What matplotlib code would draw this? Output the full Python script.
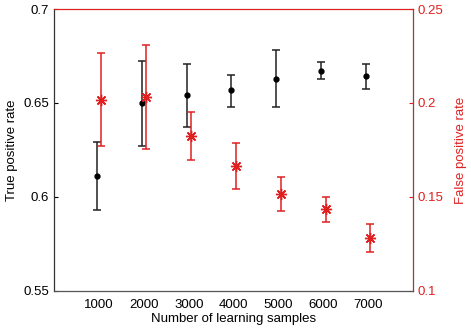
import matplotlib as mpl
mpl.use('Agg')
import matplotlib.pyplot as plt
import numpy as np

plt.rcParams['font.family'] = ['Liberation Sans', 'DejaVu Sans']

# number of learning samples
samples = [1000, 2000, 3000, 4000, 5000, 6000, 7000]

# true positive rate (left axis) with lower / upper bounds of error bars
tpr = [0.611, 0.650, 0.654, 0.657, 0.663, 0.667, 0.6645]
tpr_lo = [0.593, 0.627, 0.637, 0.648, 0.648, 0.663, 0.6576]
tpr_hi = [0.629, 0.6725, 0.671, 0.665, 0.678, 0.672, 0.671]

# false positive rate (right axis)
fpr = [0.2016, 0.203, 0.1823, 0.1665, 0.1516, 0.1435, 0.1282]
fpr_lo = [0.1771, 0.1755, 0.1695, 0.1541, 0.1424, 0.1369, 0.1206]
fpr_hi = [0.2264, 0.231, 0.195, 0.1786, 0.1608, 0.1498, 0.1356]

red = '#e02020'

fig = plt.figure(figsize=(4.71, 3.34), dpi=100)
ax = fig.add_axes([0.115, 0.129, 0.762, 0.844])
ax2 = ax.twinx()

x = np.array(samples)
tpr_a = np.array(tpr)
fpr_a = np.array(fpr)

ax.errorbar(x - 50, tpr_a, yerr=[tpr_a - np.array(tpr_lo), np.array(tpr_hi) - tpr_a],
            fmt='o', color='black', ecolor='#222222', markersize=3.5, capsize=3,
            elinewidth=1.1, capthick=1.1)
ax2.errorbar(x + 50, fpr_a, yerr=[fpr_a - np.array(fpr_lo), np.array(fpr_hi) - fpr_a],
             fmt='none', ecolor=red, capsize=3, elinewidth=1.1, capthick=1.1)
# MATLAB-style '*' marker: plus and cross combined
ax2.plot(x + 50, fpr_a, linestyle='none', marker=(8, 2, 0), markersize=8,
         color=red, markeredgewidth=1.0)

ax.set_xlim(0, 8000)
ax.set_ylim(0.55, 0.7)
ax2.set_ylim(0.1, 0.25)
ax.set_xticks(samples)
ax.set_yticks([0.55, 0.6, 0.65, 0.7])
ax.set_yticklabels(['0.55', '0.6', '0.65', '0.7'])
ax2.set_yticks([0.1, 0.15, 0.2, 0.25])
ax2.set_yticklabels(['0.1', '0.15', '0.2', '0.25'])

ax.tick_params(axis='x', length=0, labelsize=9.5, pad=6)
ax.tick_params(axis='y', direction='in', length=3, labelsize=9.5)
ax2.tick_params(axis='y', direction='in', length=3, labelsize=9.5, colors=red)

ax.set_xlabel('Number of learning samples', fontsize=9.5, labelpad=1)
ax.set_ylabel('True positive rate', fontsize=9.5)
ax2.set_ylabel('False positive rate', fontsize=9.5, color=red, labelpad=8)

ax2.spines['right'].set_color(red)
ax2.spines['top'].set_color(red)
ax.spines['top'].set_color(red)
ax2.spines['left'].set_color('#333333')
ax2.spines['bottom'].set_color('#555555')

fig.savefig('out.png', dpi=100)
